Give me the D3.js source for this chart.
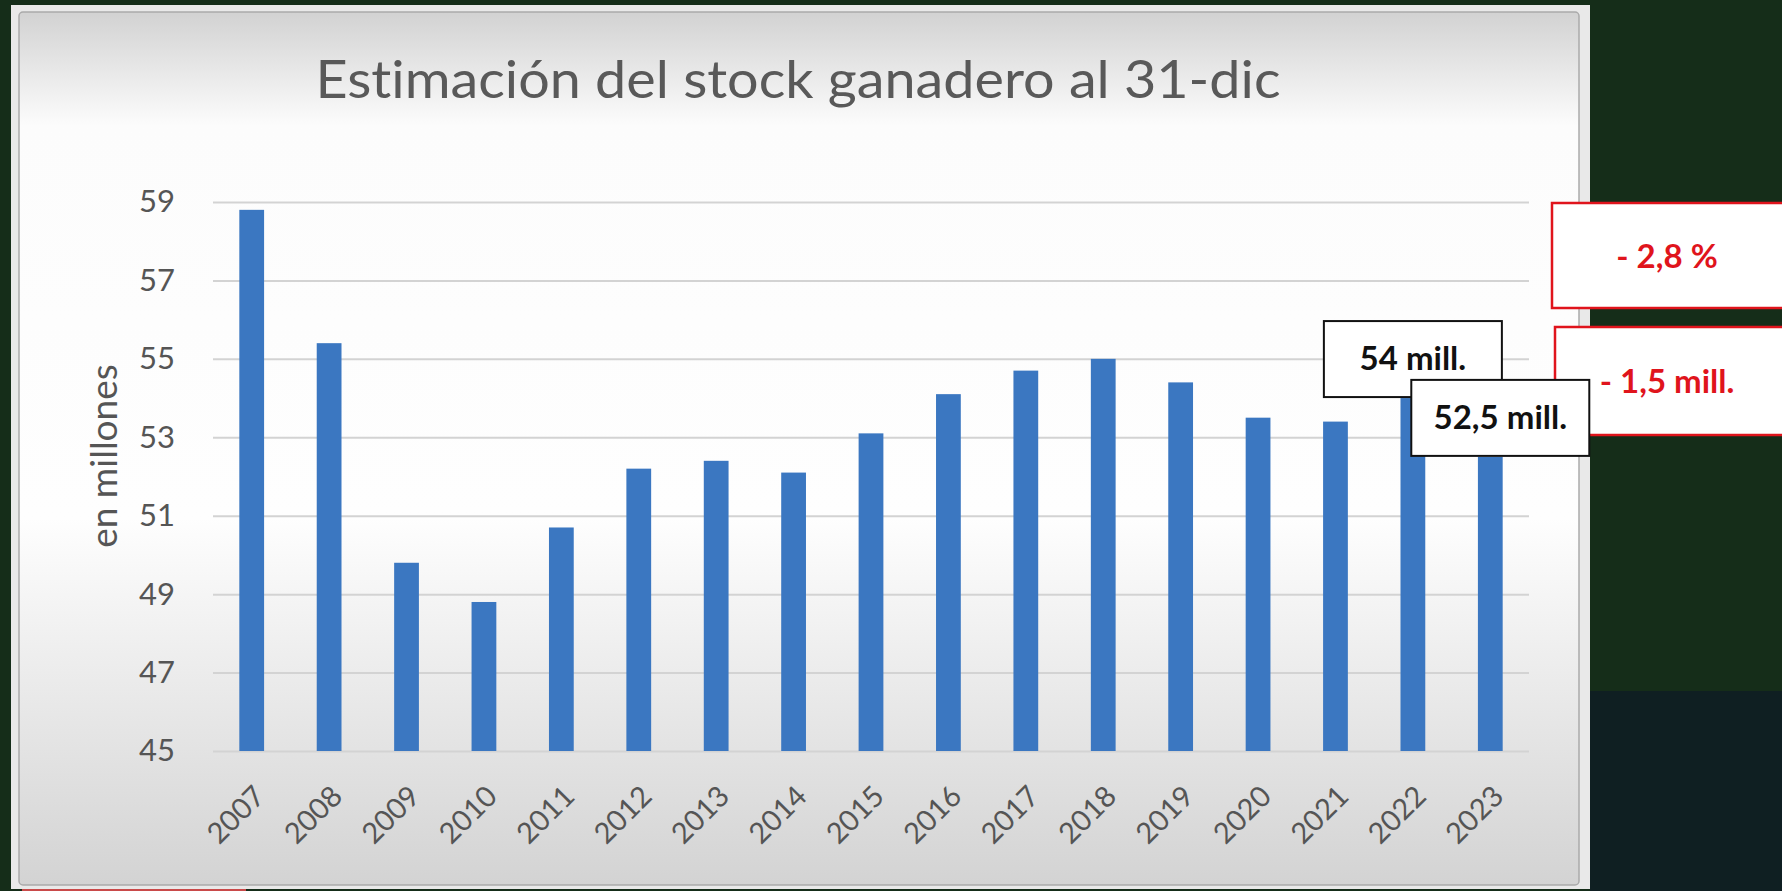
<!DOCTYPE html>
<html lang="es">
<head>
<meta charset="utf-8">
<title>Estimación del stock ganadero</title>
<script src="https://cdn.jsdelivr.net/npm/d3@7"></script>
<style>
  body { margin: 0; background: #152d19; }
  svg { display: block; }
  text { font-variant-ligatures: none; }
  .tick text { font-family: Lato, "Open Sans", sans-serif; fill: #555555; }
  .y-axis line { stroke: #d3d3d3; stroke-width: 2; }
  .y-axis .domain, .x-axis .domain { display: none; }
</style>
</head>
<body>
<div id="chart"></div>
<script>
// values (millones de cabezas)
var years = ["2007", "2008", "2009", "2010", "2011", "2012", "2013", "2014", "2015",
  "2016", "2017", "2018", "2019", "2020", "2021", "2022", "2023"];
var stock = [58.8, 55.4, 49.8, 48.8, 50.7, 52.2, 52.4, 52.1, 53.1,
  54.1, 54.7, 55.0, 54.4, 53.5, 53.4, 54.0, 52.5];
var yTicks = [45, 47, 49, 51, 53, 55, 57, 59];
var barNotes = ["54 mill.", "52,5 mill."];       // over 2022 and 2023
var changeNotes = ["- 2,8 %", "- 1,5 mill."];

var W = 1782, H = 891;
var margin = { top: 202, left: 213, right: 253, bottom: 140 };

var svg = d3
  .select("#chart")
  .append("svg")
  .attr("width", W)
  .attr("height", H);

// backdrop (video frame around the slide)
svg.append("rect").attr("width", W).attr("height", H).attr("fill", "#152d19");
svg.append("rect")
  .attr("x", 1590).attr("y", 691)
  .attr("width", W - 1590).attr("height", H - 691)
  .attr("fill", "#0f1f22");
svg.append("rect")
  .attr("x", 22).attr("y", 888)
  .attr("width", 224).attr("height", 3)
  .attr("fill", "#c94a4a");

var defs = svg.append("defs");
var grad = defs.append("linearGradient")
  .attr("id", "panel")
  .attr("x1", 0).attr("y1", 0).attr("x2", 0).attr("y2", 1);
grad.append("stop").attr("offset", "0%").attr("stop-color", "#d2d2d2");
grad.append("stop").attr("offset", "13%").attr("stop-color", "#fcfcfc");
grad.append("stop").attr("offset", "58%").attr("stop-color", "#fefefe");
grad.append("stop").attr("offset", "100%").attr("stop-color", "#d3d3d3");

// chart area (excel panel)
svg.append("rect")
  .attr("x", 11).attr("y", 5)
  .attr("width", 1579).attr("height", 884)
  .attr("fill", "#e9e9e9");
svg.append("rect")
  .attr("x", 19).attr("y", 12)
  .attr("width", 1560).attr("height", 873)
  .attr("rx", 4)
  .attr("fill", "url(#panel)")
  .attr("stroke", "#aaaaaa")
  .attr("stroke-width", 1.5);

// title
svg.append("text")
  .attr("x", 798)
  .attr("y", 98)
  .attr("text-anchor", "middle")
  .attr("textLength", 965)
  .attr("lengthAdjust", "spacingAndGlyphs")
  .style("font-family", "Lato, 'Open Sans', sans-serif")
  .style("font-size", "52px")
  .style("fill", "#595959")
  .text("Estimación del stock ganadero al 31-dic");

var g = svg.append("g")
  .attr("transform", "translate(" + margin.left + "," + margin.top + ")");

var x = d3.scaleBand()
  .domain(years)
  .range([0, 1316])
  .paddingInner(0.68)
  .paddingOuter(0.34);

var y = d3.scaleLinear()
  .domain([45, 59])
  .range([549, 0]);

g.append("g")
  .attr("class", "y-axis")
  .call(d3.axisLeft(y).tickValues(yTicks).tickSize(-1316).tickPadding(38))
  .selectAll("text")
  .style("font-size", "31px");

var xAxis = g.append("g")
  .attr("class", "x-axis")
  .attr("transform", "translate(0,549)")
  .call(d3.axisBottom(x).tickSize(0));

xAxis.selectAll("text")
  .style("font-size", "29px")
  .attr("text-anchor", "end")
  .attr("dy", 0)
  .attr("y", 0)
  .attr("transform", "translate(15,47) rotate(-45)");

// y axis title
svg.append("text")
  .attr("transform", "translate(117,456) rotate(-90)")
  .attr("text-anchor", "middle")
  .style("font-family", "Lato, 'Open Sans', sans-serif")
  .style("font-size", "37px")
  .style("fill", "#555555")
  .text("en millones");

// bars
g.selectAll(".bar")
  .data(stock)
  .enter()
  .append("rect")
  .attr("class", "bar")
  .attr("x", function (d, i) { return x(years[i]); })
  .attr("y", function (d) { return y(d); })
  .attr("width", x.bandwidth())
  .attr("height", function (d) { return y(45) - y(d); })
  .attr("fill", "#3b77c1");

// red change boxes on the right
var redBoxes = [
  { x: 1552, y: 203, h: 105, text: changeNotes[0] },
  { x: 1555, y: 327, h: 108, text: changeNotes[1] }
];
redBoxes.forEach(function (b) {
  svg.append("rect")
    .attr("x", b.x).attr("y", b.y)
    .attr("width", W - b.x + 4).attr("height", b.h)
    .attr("fill", "#ffffff")
    .attr("stroke", "#e0141c")
    .attr("stroke-width", 2.5);
  svg.append("text")
    .attr("x", 1667)
    .attr("y", b.y + b.h / 2 + 12)
    .attr("text-anchor", "middle")
    .style("font-family", "Lato, 'Open Sans', sans-serif")
    .style("font-weight", "bold")
    .style("font-size", "33px")
    .style("fill", "#e0141c")
    .text(b.text);
});

// value callouts anchored on the last two bars
var callouts = [
  { year: "2022", val: stock[15], dx: 0, text: barNotes[0] },
  { year: "2023", val: stock[16], dx: 10, text: barNotes[1] }
];
callouts.forEach(function (c) {
  var cx = margin.left + x(c.year) + x.bandwidth() / 2 + c.dx;
  var bottom = margin.top + y(c.val) - 1;
  svg.append("rect")
    .attr("x", cx - 89).attr("y", bottom - 76)
    .attr("width", 178).attr("height", 76)
    .attr("fill", "#ffffff")
    .attr("stroke", "#111111")
    .attr("stroke-width", 2);
  svg.append("text")
    .attr("x", cx)
    .attr("y", bottom - 27)
    .attr("text-anchor", "middle")
    .style("font-family", "Lato, 'Open Sans', sans-serif")
    .style("font-weight", "bold")
    .style("font-size", "33px")
    .style("fill", "#111111")
    .text(c.text);
});
</script>
</body>
</html>
